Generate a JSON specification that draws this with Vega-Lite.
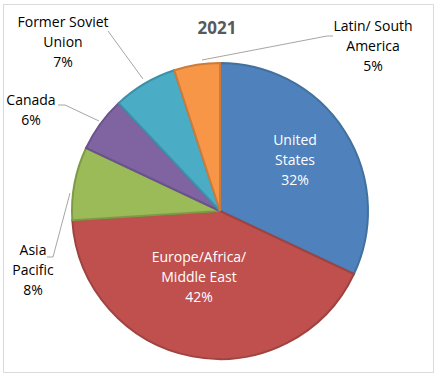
{
  "$schema": "https://vega.github.io/schema/vega-lite/v6.json",
  "width": 430,
  "height": 368,
  "autosize": "none",
  "padding": {"left": 3, "top": 4, "right": 6, "bottom": 6},
  "background": "white",
  "config": {"view": {"stroke": "#d9d9d9", "strokeWidth": 1}},
  "datasets": {
    "slices": [
      {"region": "United States", "value": 32, "ord": 1},
      {"region": "Europe/Africa/Middle East", "value": 42, "ord": 2},
      {"region": "Asia Pacific", "value": 8, "ord": 3},
      {"region": "Canada", "value": 6, "ord": 4},
      {"region": "Former Soviet Union", "value": 7, "ord": 5},
      {"region": "Latin/ South America", "value": 5, "ord": 6}
    ],
    "inner": [
      {"label": "United\nStates\n32%", "u": 75, "v": 70},
      {"label": "Europe/Africa/\nMiddle East\n42%", "u": -21, "v": -47}
    ],
    "outer": [
      {"label": "Former Soviet\nUnion\n7%", "u": -157, "v": 188},
      {"label": "Latin/ South\nAmerica\n5%", "u": 153, "v": 184},
      {"label": "Canada\n6%", "u": -189, "v": 110},
      {"label": "Asia\nPacific\n8%", "u": -187, "v": -40}
    ],
    "leaders": [
      {"id": "fsu", "seq": 1, "u": -112, "v": 180},
      {"id": "fsu", "seq": 2, "u": -77, "v": 132},
      {"id": "lat", "seq": 1, "u": 113, "v": 175},
      {"id": "lat", "seq": 2, "u": 107, "v": 175},
      {"id": "lat", "seq": 3, "u": -18, "v": 151},
      {"id": "can", "seq": 1, "u": -162, "v": 106},
      {"id": "can", "seq": 2, "u": -155, "v": 106},
      {"id": "can", "seq": 3, "u": -121, "v": 90},
      {"id": "asi", "seq": 1, "u": -173, "v": -46},
      {"id": "asi", "seq": 2, "u": -167, "v": -46},
      {"id": "asi", "seq": 3, "u": -150, "v": 18}
    ],
    "title": [{"label": "2021", "u": -3, "v": 182}]
  },
  "layer": [
    {
      "data": {"name": "slices"},
      "mark": {"type": "arc", "outerRadius": 148, "strokeWidth": 2},
      "encoding": {
        "x": {"datum": 0, "type": "quantitative", "scale": {"domain": [-217, 213], "nice": false, "zero": false}, "axis": null},
        "y": {"datum": 0, "type": "quantitative", "scale": {"domain": [-161, 207], "nice": false, "zero": false}, "axis": null},
        "theta": {"field": "value", "type": "quantitative", "stack": true},
        "order": {"field": "ord", "type": "quantitative"},
        "color": {
          "field": "region", "type": "nominal", "legend": null,
          "scale": {
            "domain": ["United States", "Europe/Africa/Middle East", "Asia Pacific", "Canada", "Former Soviet Union", "Latin/ South America"],
            "range": ["#4F81BD", "#C0504D", "#9BBB59", "#8064A2", "#4BACC6", "#F79646"]
          }
        },
        "stroke": {
          "field": "region", "type": "nominal", "legend": null,
          "scale": {
            "domain": ["United States", "Europe/Africa/Middle East", "Asia Pacific", "Canada", "Former Soviet Union", "Latin/ South America"],
            "range": ["#41719C", "#9E4340", "#7E9A48", "#6A538A", "#3C90A8", "#CC7B3A"]
          }
        }
      }
    },
    {
      "data": {"name": "leaders"},
      "mark": {"type": "line", "color": "#a6a6a6", "strokeWidth": 1},
      "encoding": {
        "x": {"field": "u", "type": "quantitative", "scale": {"domain": [-217, 213], "nice": false, "zero": false}, "axis": null},
        "y": {"field": "v", "type": "quantitative", "scale": {"domain": [-161, 207], "nice": false, "zero": false}, "axis": null},
        "detail": {"field": "id", "type": "nominal"},
        "order": {"field": "seq", "type": "quantitative"}
      }
    },
    {
      "data": {"name": "inner"},
      "mark": {"type": "text", "font": "Open Sans", "fontSize": 14, "lineHeight": 20, "lineBreak": "\n", "color": "#ffffff", "align": "center", "baseline": "middle"},
      "encoding": {
        "x": {"field": "u", "type": "quantitative", "axis": null},
        "y": {"field": "v", "type": "quantitative", "axis": null},
        "text": {"field": "label", "type": "nominal"}
      }
    },
    {
      "data": {"name": "outer"},
      "mark": {"type": "text", "font": "Open Sans", "fontSize": 14, "lineHeight": 20, "lineBreak": "\n", "color": "#000000", "align": "center", "baseline": "middle"},
      "encoding": {
        "x": {"field": "u", "type": "quantitative", "axis": null},
        "y": {"field": "v", "type": "quantitative", "axis": null},
        "text": {"field": "label", "type": "nominal"}
      }
    },
    {
      "data": {"name": "title"},
      "mark": {"type": "text", "font": "Open Sans", "fontSize": 17, "fontWeight": "bold", "color": "#595959", "align": "center", "baseline": "middle"},
      "encoding": {
        "x": {"field": "u", "type": "quantitative", "axis": null},
        "y": {"field": "v", "type": "quantitative", "axis": null},
        "text": {"field": "label", "type": "nominal"}
      }
    }
  ]
}
